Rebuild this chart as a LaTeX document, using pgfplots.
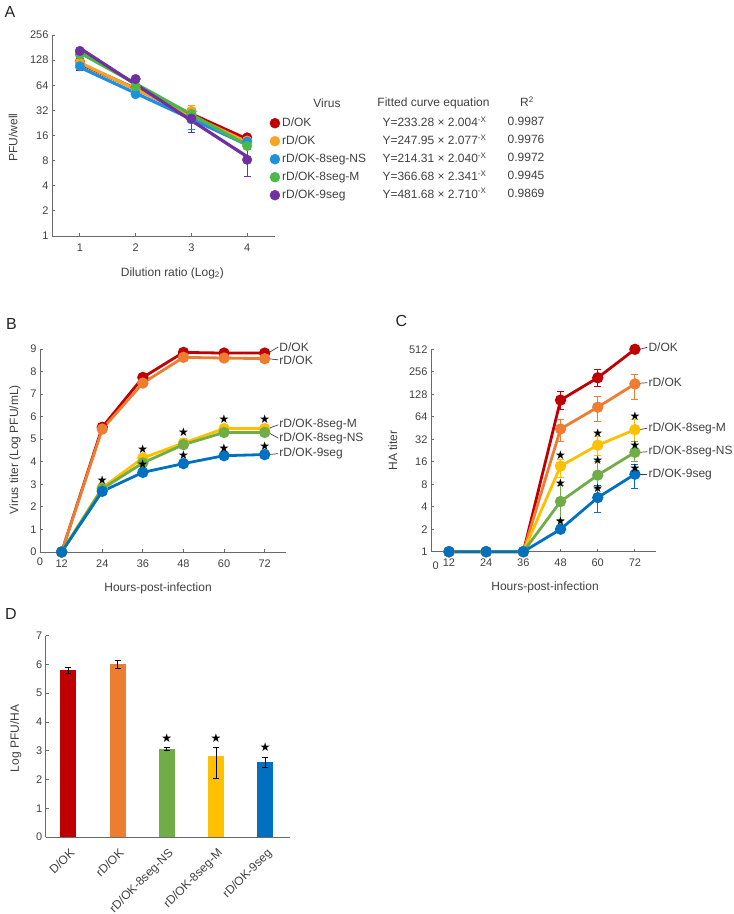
\documentclass[border=0pt]{standalone}
\usepackage{pgfplots}
\pgfplotsset{compat=1.18}
\usepackage{fontspec}
\setmainfont{Liberation Sans}
\newfontfamily\dejavu{DejaVu Sans}
\definecolor{cRed}{HTML}{C00000}
\definecolor{cOrg}{HTML}{ED7D31}
\definecolor{cYel}{HTML}{FFC000}
\definecolor{cGrn}{HTML}{70AD47}
\definecolor{cBlu}{HTML}{0070C0}
\definecolor{aOrg}{HTML}{F7A325}
\definecolor{aBlu}{HTML}{1E90E0}
\definecolor{aGrn}{HTML}{4CB848}
\definecolor{aPur}{HTML}{7030A0}
\definecolor{txt}{HTML}{404040}
\definecolor{axc}{HTML}{6A6A6A}
\pgfplotsset{
  every axis/.append style={
    scale only axis, clip=false,
    axis x line*=bottom, axis y line*=left,
    axis line style={-, draw=axc, line width=0.9pt},
    tick style={draw=axc, line width=0.9pt},
    tick align=inside, major tick length=3pt,
    ticklabel style={font=\fontsize{11}{12}\selectfont, text=txt},
    xticklabel style={yshift=-4pt},
    label style={font=\fontsize{12}{14}\selectfont, text=txt},
    /pgf/number format/assume math mode=true,
  },
  ln/.style={line width=2.8pt, mark=*, mark size=4.2pt},
  eb/.style={error bars/.cd, y dir=both, y explicit,
    error bar style={line width=1pt},
    error mark options={rotate=90, mark size=3.5pt, line width=1pt}},
  st/.style={only marks, black!85, mark=text, text mark={\fontsize{12}{12}\selectfont\dejavu ★}},
}
\tikzset{lab/.style={anchor=west, inner sep=1pt, font=\fontsize{12}{13}\selectfont, text=txt}}
\begin{document}
\begin{tikzpicture}
\path[use as bounding box] (0,0) rectangle (734pt,-914pt);
\node[font=\fontsize{16}{16}\selectfont, text=black!85] at (10pt,-12pt) {A};
\node[font=\fontsize{16}{16}\selectfont, text=black!85] at (11.5pt,-323.5pt) {B};
\node[font=\fontsize{16}{16}\selectfont, text=black!85] at (401.5pt,-321pt) {C};
\node[font=\fontsize{16}{16}\selectfont, text=black!85] at (11pt,-614pt) {D};

% ---------------- Panel A ----------------
\begin{axis}[at={(52pt,-236pt)}, anchor=south west, width=223pt, height=201pt,
  xmin=0.5, xmax=4.5, ymode=log, log basis y=2, ymin=1, ymax=256,
  xtick={1,2,3,4}, ytick={1,2,4,8,16,32,64,128,256},
  yticklabels={1,2,4,8,16,32,64,128,256},
  xlabel={Dilution ratio (Log\textsubscript{2})}, ylabel={PFU/well},
  xlabel style={at={(axis description cs:0.54,-0.184)}, anchor=center},
  ylabel style={at={(axis description cs:-0.175,0.49)}, anchor=center},
  legend cell align=left,
  legend style={draw=none, fill=none, at={(axis description cs:0.962,0.607)}, anchor=north west,
    font=\fontsize{12}{13}\selectfont, text=txt, row sep=4pt,
    nodes={inner ysep=1pt, text height=9pt, text depth=3pt}},
  legend image code/.code={\fill (0.1cm,0cm) circle (5pt);},
]
\addplot[cRed, line width=3.2pt, forget plot] coordinates {(1,116.41) (4,14.46)};
\addplot[cRed, only marks, mark=*, mark size=4.8pt, eb] coordinates {(1,123) +- (0,26) (2,60) +- (0,3) (3,31) +- (0,2) (4,15.2) +- (0,1)};
\addlegendentry{D/OK}
\addplot[aOrg, line width=3.2pt, forget plot] coordinates {(1,119.38) (4,13.32)};
\addplot[aOrg, only marks, mark=*, mark size=4.8pt, eb] coordinates {(1,120) +- (0,8) (2,58) +- (0,3) (3,31.5) +- (0,5) (4,13.9) +- (0,1)};
\addlegendentry{rD/OK}
\addplot[aBlu, line width=3.2pt, forget plot] coordinates {(1,105.05) (4,12.37)};
\addplot[aBlu, only marks, mark=*, mark size=4.8pt, eb] coordinates {(1,108) +- (0,6) (2,50) +- (0,3) (3,25) +- (0,6) (4,13.5) +- (0,1)};
\addlegendentry{rD/OK-8seg-NS}
\addplot[aGrn, line width=3.2pt, forget plot] coordinates {(1,156.63) (4,12.21)};
\addplot[aGrn, only marks, mark=*, mark size=4.8pt, eb] coordinates {(1,150) +- (0,8) (2,62) +- (0,3) (3,29) +- (0,3) (4,12) +- (0,1)};
\addlegendentry{rD/OK-8seg-M}
\addplot[aPur, line width=3.2pt, forget plot] coordinates {(1,177.74) (4,8.93)};
\addplot[aPur, only marks, mark=*, mark size=4.8pt, eb] coordinates {(1,165) +- (0,8) (2,76) +- (0,4) (3,25.5) +- (0,8) (4,8.2) +- (0,3)};
\addlegendentry{rD/OK-9seg}
\end{axis}
\begin{scope}[every node/.style={font=\fontsize{12}{13}\selectfont, text=txt}]
\node at (327pt,-103.3pt) {Virus};
\node at (433.5pt,-103.3pt) {Fitted curve equation};
\node at (527pt,-102pt) {R\textsuperscript{2}};
\node[anchor=west] at (379pt,-121.7pt) {Y=233.28 × 2.004\textsuperscript{-X}};
\node[anchor=west] at (379pt,-139.7pt) {Y=247.95 × 2.077\textsuperscript{-X}};
\node[anchor=west] at (379pt,-157.7pt) {Y=214.31 × 2.040\textsuperscript{-X}};
\node[anchor=west] at (379pt,-175.7pt) {Y=366.68 × 2.341\textsuperscript{-X}};
\node[anchor=west] at (379pt,-193.3pt) {Y=481.68 × 2.710\textsuperscript{-X}};
\node at (526pt,-121.7pt) {0.9987};
\node at (526pt,-139.7pt) {0.9976};
\node at (526pt,-157.7pt) {0.9972};
\node at (526pt,-175.7pt) {0.9945};
\node at (526pt,-193.3pt) {0.9869};
\end{scope}

% ---------------- Panel B ----------------
\begin{axis}[at={(40pt,-552pt)}, anchor=south west, width=246pt, height=203pt,
  xmin=5.6, xmax=78.3, ymin=0, ymax=9,
  xtick={12,24,36,48,60,72}, ytick={0,1,...,9},
  xlabel={Hours-post-infection}, ylabel={Virus titer (Log PFU/mL)},
  xlabel style={at={(axis description cs:0.48,-0.181)}, anchor=center},
  ylabel style={at={(axis description cs:-0.102,0.504)}, anchor=center},
]
\addplot[cRed, ln, eb] coordinates {(12,0) (24,5.53) +- (0,0.1) (36,7.74) +- (0,0.08) (48,8.85) +- (0,0.05) (60,8.82) +- (0,0.05) (72,8.82) +- (0,0.05)};
\addplot[cOrg, ln, eb] coordinates {(12,0) (24,5.45) +- (0,0.15) (36,7.49) +- (0,0.08) (48,8.63) +- (0,0.05) (60,8.6) +- (0,0.05) (72,8.57) +- (0,0.05)};
\addplot[cYel, ln, eb] coordinates {(12,0) +- (0,0.2) (24,2.85) +- (0,0.1) (36,4.17) +- (0,0.15) (48,4.83) +- (0,0.2) (60,5.47) +- (0,0.15) (72,5.47) +- (0,0.15)};
\addplot[cGrn, ln, eb] coordinates {(12,0) (24,2.8) +- (0,0.1) (36,3.95) +- (0,0.1) (48,4.76) +- (0,0.1) (60,5.3) +- (0,0.1) (72,5.3) +- (0,0.1)};
\addplot[cBlu, ln, eb] coordinates {(12,0) (24,2.69) +- (0,0.1) (36,3.53) +- (0,0.1) (48,3.92) +- (0,0.15) (60,4.27) +- (0,0.15) (72,4.32) +- (0,0.1)};
\addplot[st] coordinates {(24,3.2) (36,4.58) (36,3.9) (48,5.32) (48,4.31) (60,5.91) (60,4.61) (72,5.91) (72,4.68)};
\draw[txt, line width=0.7pt] (axis cs:73,8.82) -- (axis cs:76,9.09);
\draw[txt, line width=0.7pt] (axis cs:73,8.57) -- (axis cs:76,8.52);
\draw[txt, line width=0.7pt] (axis cs:73,5.47) -- (axis cs:76,5.64);
\draw[txt, line width=0.7pt] (axis cs:73,5.3) -- (axis cs:76,5.05);
\draw[txt, line width=0.7pt] (axis cs:73,4.32) -- (axis cs:76,4.36);
\node[lab] at (axis cs:76,9.09) {D/OK};
\node[lab] at (axis cs:76,8.52) {rD/OK};
\node[lab] at (axis cs:76,5.64) {rD/OK-8seg-M};
\node[lab] at (axis cs:76,5.05) {rD/OK-8seg-NS};
\node[lab] at (axis cs:76,4.36) {rD/OK-9seg};
\node[font=\fontsize{11}{12}\selectfont, text=txt] at (axis description cs:0,-0.05) {0};
\end{axis}

% ---------------- Panel C ----------------
\begin{axis}[at={(431pt,-551.7pt)}, anchor=south west, width=225pt, height=202.4pt,
  xmin=6.2, xmax=78.8, ymode=log, log basis y=2, ymin=1, ymax=512,
  xtick={12,24,36,48,60,72}, ytick={1,2,4,8,16,32,64,128,256,512},
  yticklabels={1,2,4,8,16,32,64,128,256,512},
  xlabel={Hours-post-infection}, ylabel={HA titer},
  xlabel style={at={(axis description cs:0.507,-0.174)}, anchor=center},
  ylabel style={at={(axis description cs:-0.17,0.5)}, anchor=center},
]
\addplot[cRed, ln, eb] coordinates {(12,1) (24,1) (36,1) (48,107) += (0,31) -= (0,28) (60,213) += (0,63) -= (0,51) (72,512) +- (0,10)};
\addplot[cOrg, ln, eb] coordinates {(12,1) (24,1) (36,1) (48,44) += (0,15) -= (0,14) (60,86) += (0,33) -= (0,31) (72,176) += (0,61) -= (0,68)};
\addplot[cYel, ln, eb] coordinates {(12,1) (24,1) (36,1) (48,14) += (0,3) -= (0,4) (60,26.7) += (0,8) -= (0,7) (72,43) += (0,16) -= (0,13)};
\addplot[cGrn, ln, eb] coordinates {(12,1) (24,1) (36,1) (48,4.7) += (0,3.1) -= (0,2) (60,10.6) += (0,5.4) -= (0,3.6) (72,21.4) += (0,8.6) -= (0,5.4)};
\addplot[cBlu, ln, eb] coordinates {(12,1) (24,1) (36,1) (48,2) +- (0,0.1) (60,5.3) += (0,2.5) -= (0,1.9) (72,10.9) += (0,3.6) -= (0,3.9)};
\addplot[st] coordinates {(48,19.3) (48,8.2) (48,2.6) (60,39) (60,16.9) (60,7.06) (72,65) (72,26.8) (72,13.3)};
\draw[txt, line width=0.7pt] (axis cs:73.5,512) -- (axis cs:76,545);
\draw[txt, line width=0.7pt] (axis cs:73.5,180) -- (axis cs:76,183);
\draw[txt, line width=0.7pt] (axis cs:73.5,43) -- (axis cs:76,45);
\draw[txt, line width=0.7pt] (axis cs:73.5,21.4) -- (axis cs:76,21.8);
\draw[txt, line width=0.7pt] (axis cs:73.5,10.9) -- (axis cs:76,10.9);
\node[lab] at (axis cs:76,545) {D/OK};
\node[lab] at (axis cs:76,183) {rD/OK};
\node[lab] at (axis cs:76,45) {rD/OK-8seg-M};
\node[lab] at (axis cs:76,21.8) {rD/OK-8seg-NS};
\node[lab] at (axis cs:76,10.9) {rD/OK-9seg};
\node[font=\fontsize{11}{12}\selectfont, text=txt] at (axis description cs:0.021,-0.068) {0};
\end{axis}

% ---------------- Panel D ----------------
\begin{axis}[at={(45.7pt,-837pt)}, anchor=south west, width=244.3pt, height=201.3pt,
  xmin=-0.46, xmax=4.5, ymin=0, ymax=7,
  xtick={0,1,2,3,4}, ytick={0,1,...,7}, x tick style={draw=none},
  xticklabels={D/OK, rD/OK, rD/OK-8seg-NS, rD/OK-8seg-M, rD/OK-9seg},
  xticklabel style={rotate=45, anchor=north east, inner sep=1pt, xshift=-3pt, yshift=-4pt, font=\fontsize{12}{13}\selectfont},
  ylabel={Log PFU/HA},
  ylabel style={at={(axis description cs:-0.122,0.49)}, anchor=center},
  error bars/error bar style={black, line width=1pt},
  error bars/error mark options={black, rotate=90, mark size=3pt, line width=1pt},
]
\addplot[ybar, bar width=16pt, bar shift=0pt, fill=cRed, draw=none, error bars/.cd, y dir=both, y explicit] coordinates {(0,5.8) +- (0,0.1)};
\addplot[ybar, bar width=16pt, bar shift=0pt, fill=cOrg, draw=none, error bars/.cd, y dir=both, y explicit] coordinates {(1,6.0) +- (0,0.15)};
\addplot[ybar, bar width=16pt, bar shift=0pt, fill=cGrn, draw=none, error bars/.cd, y dir=both, y explicit] coordinates {(2,3.06) +- (0,0.05)};
\addplot[ybar, bar width=16pt, bar shift=0pt, fill=cYel, draw=none, error bars/.cd, y dir=both, y explicit] coordinates {(3,2.83) += (0,0.29) -= (0,0.78)};
\addplot[ybar, bar width=16pt, bar shift=0pt, fill=cBlu, draw=none, error bars/.cd, y dir=both, y explicit] coordinates {(4,2.62) += (0,0.15) -= (0,0.22)};
\addplot[st] coordinates {(2,3.43) (3,3.43) (4,3.12)};
\end{axis}
\end{tikzpicture}
\end{document}
